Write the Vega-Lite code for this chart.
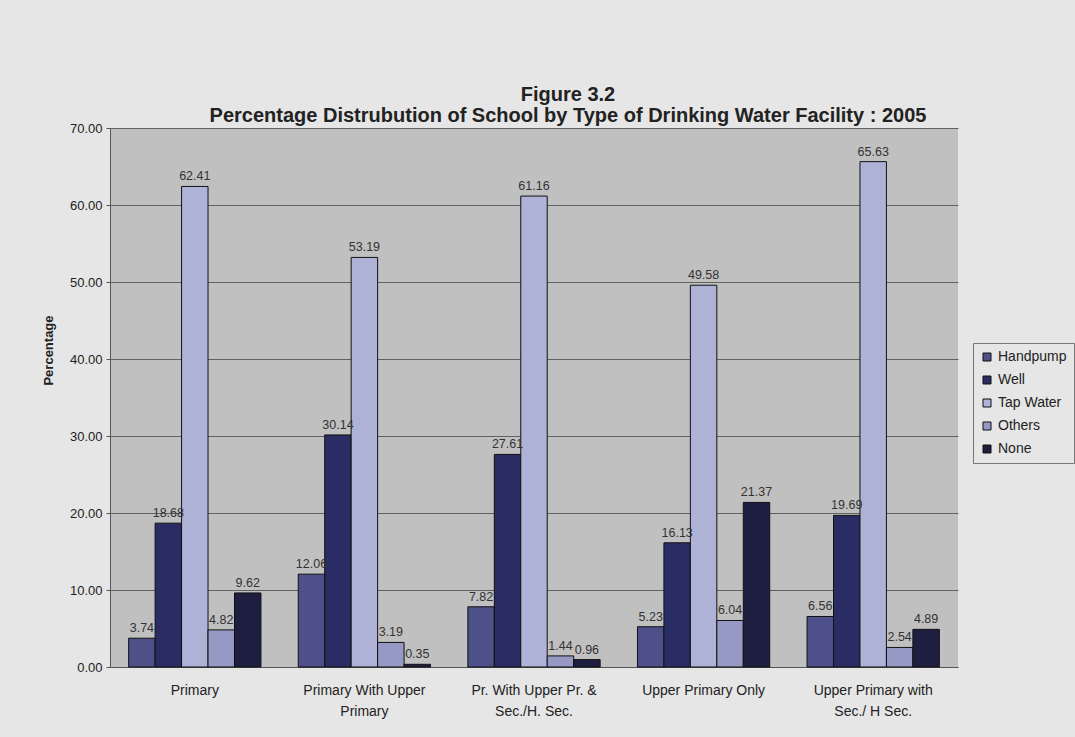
{
  "$schema": "https://vega.github.io/schema/vega-lite/v6.json",
  "autosize": "none",
  "width": 848,
  "height": 539,
  "padding": {"left": 110, "top": 128, "right": 117, "bottom": 70},
  "background": "#e6e6e6",
  "title": {
    "text": ["Figure 3.2", "Percentage Distrubution of School by Type of Drinking Water Facility : 2005"],
    "font": "Liberation Sans",
    "fontSize": 20,
    "fontWeight": "bold",
    "color": "#222222",
    "anchor": "middle",
    "lineHeight": 21,
    "offset": -4,
    "dx": 34
  },
  "config": {
    "view": {"fill": "#c0c0c0", "stroke": null},
    "font": "Liberation Sans"
  },
  "data": {
    "values": [
      {"school": "Primary", "type": "Handpump", "value": 3.74},
      {"school": "Primary", "type": "Well", "value": 18.68},
      {"school": "Primary", "type": "Tap Water", "value": 62.41},
      {"school": "Primary", "type": "Others", "value": 4.82},
      {"school": "Primary", "type": "None", "value": 9.62},
      {"school": "Primary With Upper Primary", "type": "Handpump", "value": 12.06},
      {"school": "Primary With Upper Primary", "type": "Well", "value": 30.14},
      {"school": "Primary With Upper Primary", "type": "Tap Water", "value": 53.19},
      {"school": "Primary With Upper Primary", "type": "Others", "value": 3.19},
      {"school": "Primary With Upper Primary", "type": "None", "value": 0.35},
      {"school": "Pr. With Upper Pr. & Sec./H. Sec.", "type": "Handpump", "value": 7.82},
      {"school": "Pr. With Upper Pr. & Sec./H. Sec.", "type": "Well", "value": 27.61},
      {"school": "Pr. With Upper Pr. & Sec./H. Sec.", "type": "Tap Water", "value": 61.16},
      {"school": "Pr. With Upper Pr. & Sec./H. Sec.", "type": "Others", "value": 1.44},
      {"school": "Pr. With Upper Pr. & Sec./H. Sec.", "type": "None", "value": 0.96},
      {"school": "Upper Primary Only", "type": "Handpump", "value": 5.23},
      {"school": "Upper Primary Only", "type": "Well", "value": 16.13},
      {"school": "Upper Primary Only", "type": "Tap Water", "value": 49.58},
      {"school": "Upper Primary Only", "type": "Others", "value": 6.04},
      {"school": "Upper Primary Only", "type": "None", "value": 21.37},
      {"school": "Upper Primary with Sec./ H Sec.", "type": "Handpump", "value": 6.56},
      {"school": "Upper Primary with Sec./ H Sec.", "type": "Well", "value": 19.69},
      {"school": "Upper Primary with Sec./ H Sec.", "type": "Tap Water", "value": 65.63},
      {"school": "Upper Primary with Sec./ H Sec.", "type": "Others", "value": 2.54},
      {"school": "Upper Primary with Sec./ H Sec.", "type": "None", "value": 4.89}
    ]
  },
  "encoding": {
    "x": {
      "field": "school",
      "type": "nominal",
      "sort": null,
      "scale": {"paddingInner": 0.22, "paddingOuter": 0.11},
      "axis": {
        "title": null,
        "labelAngle": 0,
        "labelFontSize": 14,
        "labelColor": "#222222",
        "labelPadding": 16,
        "labelLineHeight": 21,
        "ticks": false,
        "domainColor": "#555555",
        "labelExpr": "datum.label == 'Primary With Upper Primary' ? ['Primary With Upper', 'Primary'] : datum.label == 'Pr. With Upper Pr. & Sec./H. Sec.' ? ['Pr. With Upper Pr. &', 'Sec./H. Sec.'] : datum.label == 'Upper Primary with Sec./ H Sec.' ? ['Upper Primary with', 'Sec./ H Sec.'] : datum.label"
      }
    },
    "xOffset": {
      "field": "type",
      "type": "nominal",
      "sort": ["Handpump", "Well", "Tap Water", "Others", "None"],
      "scale": {"paddingInner": 0, "paddingOuter": 0}
    },
    "y": {
      "field": "value",
      "type": "quantitative",
      "scale": {"domain": [0, 70], "nice": false},
      "axis": {
        "title": "Percentage",
        "titleFontSize": 13,
        "titleFontWeight": "bold",
        "titleColor": "#222222",
        "titleX": -62,
        "titleY": 222,
        "titleAngle": 270,
        "titleAlign": "center",
        "titleBaseline": "middle",
        "format": ".2f",
        "values": [0, 10, 20, 30, 40, 50, 60, 70],
        "labelOverlap": false,
        "grid": true,
        "labelFontSize": 13,
        "labelColor": "#222222",
        "labelPadding": 4,
        "tickSize": 4,
        "tickColor": "#555555",
        "domainColor": "#555555",
        "gridColor": "#4a4a4a",
        "gridWidth": 1,
        "gridOpacity": 0.8
      }
    }
  },
  "layer": [
    {
      "mark": {"type": "bar", "stroke": "#111111", "strokeWidth": 1},
      "encoding": {
        "color": {
          "field": "type",
          "type": "nominal",
          "sort": ["Handpump", "Well", "Tap Water", "Others", "None"],
          "scale": {
            "domain": ["Handpump", "Well", "Tap Water", "Others", "None"],
            "range": ["#4e5189", "#2a2d63", "#aeb2d6", "#9699c4", "#1e1f40"]
          },
          "legend": {
            "title": null,
            "orient": "none",
            "legendX": 863,
            "legendY": 215,
            "symbolType": "square",
            "symbolSize": 64,
            "symbolStrokeColor": "#111111",
            "symbolStrokeWidth": 1,
            "symbolOpacity": 1,
            "labelFontSize": 14,
            "labelColor": "#222222",
            "rowPadding": 9,
            "padding": 7,
            "strokeColor": "#777777",
            "fillColor": "#e6e6e6"
          }
        }
      }
    },
    {
      "mark": {"type": "text", "dy": -10, "fontSize": 12.5, "color": "#333333"},
      "encoding": {
        "text": {"field": "value", "type": "quantitative", "format": ".2f"}
      }
    }
  ]
}
